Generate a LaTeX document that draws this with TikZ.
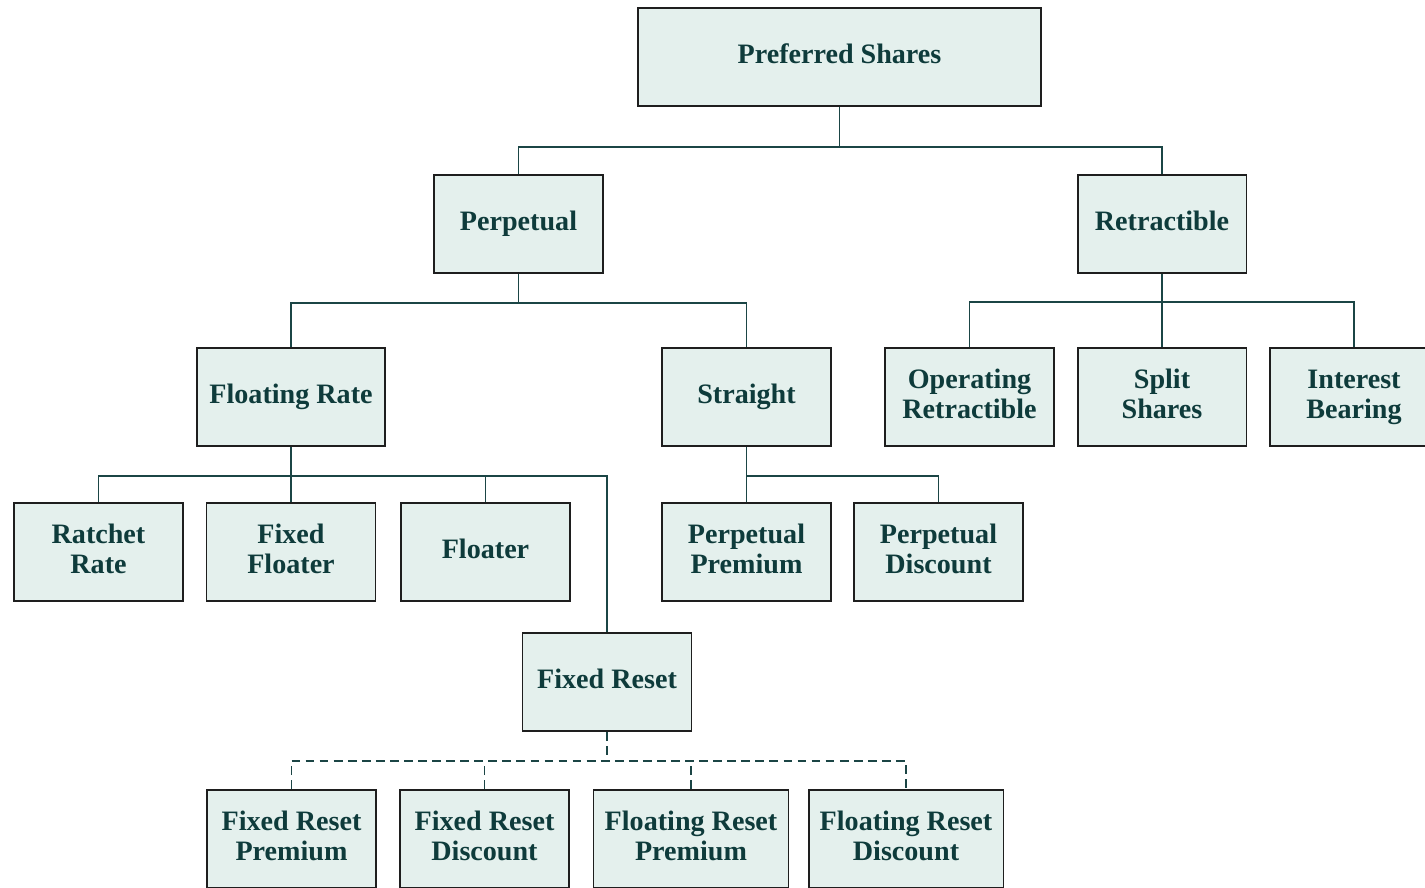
\documentclass[tikz,border=0pt]{standalone}
\usepackage{fontspec}
\setmainfont{Liberation Serif}
\usepackage{tikz}

\definecolor{boxfill}{HTML}{E4F0ED}
\definecolor{boxtext}{HTML}{0E3B3B}
\definecolor{boxedge}{HTML}{1E1E1E}
\definecolor{linkcol}{HTML}{1B4545}

\tikzset{
  sharebox/.style={draw=boxedge, fill=boxfill, line width=1.1pt, text=boxtext,
    font=\fontsize{16}{17}\selectfont\bfseries, align=center,
    minimum width=3.38cm, minimum height=1.96cm, inner sep=0pt,
    execute at end node={\rule[-3.5pt]{0pt}{0pt}}},
  link/.style={draw=linkcol, line width=0.8pt},
  dashlink/.style={link, dash pattern=on 5pt off 3pt}
}

\begin{document}
\begin{tikzpicture}[x=0.02cm, y=-0.02cm]
\clip (0,0) rectangle (1425,887);
\useasboundingbox (0,0) rectangle (1425,887);
%Top levels
\node[sharebox, minimum width=8.06cm] (pref) at (839.5,57) {Preferred Shares};
\node[sharebox] (perp) at (518.5,224) {Perpetual};
\node[sharebox] (retr) at (1162,224) {Retractible};
%Perpetual branch
\node[sharebox, minimum width=3.76cm] (flrate) at (291,397) {Floating Rate};
\node[sharebox] (straight) at (746.5,397) {Straight};
%Retractible branch
\node[sharebox] (oper) at (969.5,397) {Operating\\Retractible};
\node[sharebox] (split) at (1162,397) {Split\\Shares};
\node[sharebox] (inter) at (1354,397) {Interest\\Bearing};
%Floating rate and straight children
\node[sharebox] (ratchet) at (98.5,552) {Ratchet\\Rate};
\node[sharebox] (fixfl) at (291,552) {Fixed\\Floater};
\node[sharebox] (floater) at (485.5,552) {Floater};
\node[sharebox] (pprem) at (746.5,552) {Perpetual\\Premium};
\node[sharebox] (pdisc) at (938.5,552) {Perpetual\\Discount};
\node[sharebox] (fixres) at (607,682) {Fixed Reset};
%Fixed reset children
\node[sharebox] (frprem) at (291.5,839) {Fixed Reset\\Premium};
\node[sharebox] (frdisc) at (484.5,839) {Fixed Reset\\Discount};
\node[sharebox, minimum width=3.9cm] (flprem) at (691,839) {Floating Reset\\Premium};
\node[sharebox, minimum width=3.9cm] (fldisc) at (906,839) {Floating Reset\\Discount};

%Connectors
\coordinate (b1) at (839.5,147);
\coordinate (b2) at (518.5,303);
\coordinate (b3) at (1162,302);
\coordinate (b4) at (291,476);
\coordinate (b5) at (746.5,476);
\coordinate (b6) at (607,761);
\draw[link] (pref.south) -- (b1);
\draw[link] (perp.north) |- (b1) -| (retr.north);
\draw[link] (perp.south) -- (b2);
\draw[link] (flrate.north) |- (b2) -| (straight.north);
\draw[link] (retr.south) -- (b3) -- (split.north);
\draw[link] (oper.north) |- (b3) -| (inter.north);
\draw[link] (flrate.south) -- (b4) -- (fixfl.north);
\draw[link] (ratchet.north) |- (b4) -| (fixres.north);
\draw[link] (floater.north) -- (floater.north |- b4);
\draw[link] (straight.south) -- (b5) -- (pprem.north);
\draw[link] (b5) -| (pdisc.north);
\draw[dashlink] (fixres.south) -- (b6);
\draw[dashlink] (frprem.north) |- (b6) -| (fldisc.north);
\draw[dashlink] (frdisc.north) -- (frdisc.north |- b6);
\draw[dashlink] (flprem.north) -- (flprem.north |- b6);
\end{tikzpicture}
\end{document}
